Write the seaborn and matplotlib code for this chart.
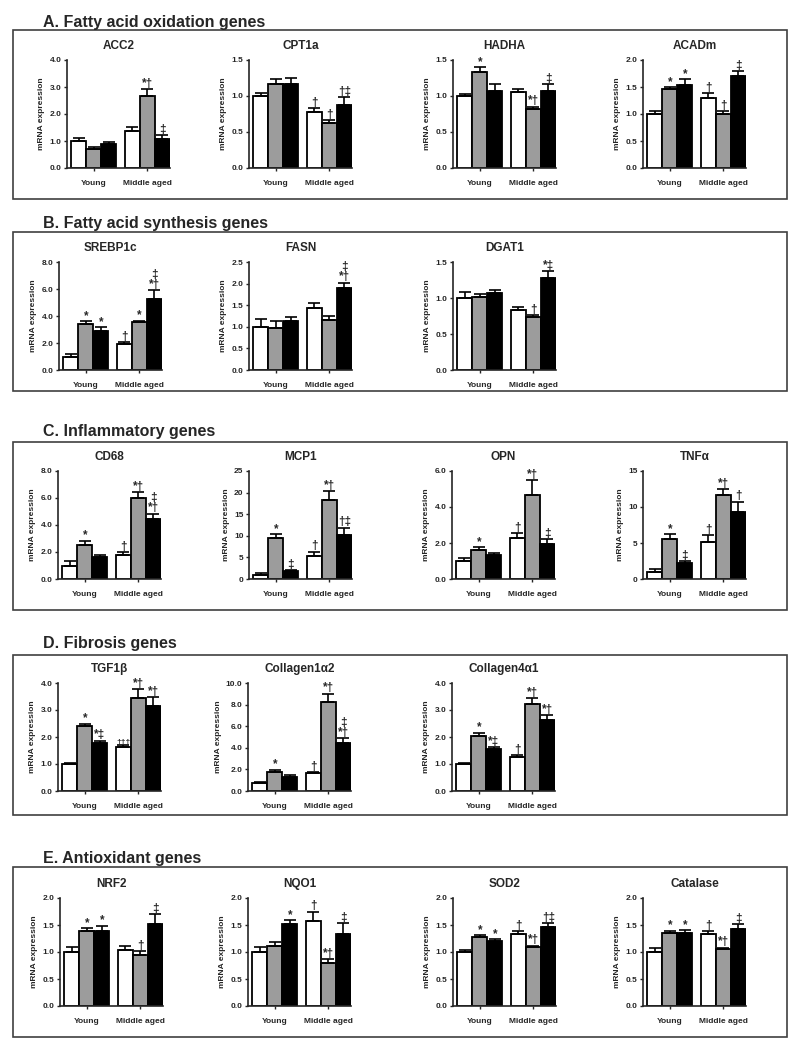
import numpy as np
import pandas as pd
import matplotlib
matplotlib.use('Agg')
import matplotlib.pyplot as plt
import seaborn as sns
from matplotlib.patches import Rectangle

# groups on the x axis and the three bar shades inside each group
ages = ['Young', 'Middle aged']
conds = ['white', 'gray', 'black']
bar_colors = ['white', '#9c9c9c', 'black']

# values are ordered: Young (white, gray, black), Middle aged (white, gray, black)
# A. Fatty acid oxidation
ACC2 = [1.00, 0.70, 0.90, 1.38, 2.68, 1.08]
ACC2_sem = [0.12, 0.08, 0.08, 0.15, 0.23, 0.13]
ACC2_sig = ['', '', '', '', '*†', '‡']

CPT1a = [1.00, 1.16, 1.17, 0.78, 0.63, 0.88]
CPT1a_sem = [0.04, 0.08, 0.08, 0.05, 0.03, 0.10]
CPT1a_sig = ['', '', '', '†', '†', '†‡']

HADHA = [1.00, 1.33, 1.07, 1.06, 0.82, 1.07]
HADHA_sem = [0.03, 0.07, 0.10, 0.04, 0.03, 0.09]
HADHA_sig = ['', '*', '', '', '*†', '‡']

ACADm = [1.00, 1.47, 1.54, 1.30, 1.00, 1.71]
ACADm_sem = [0.05, 0.03, 0.10, 0.09, 0.05, 0.08]
ACADm_sig = ['', '*', '*', '†', '†', '‡']

# B. Fatty acid synthesis
SREBP1c = [1.00, 3.40, 2.90, 1.90, 3.55, 5.25]
SREBP1c_sem = [0.20, 0.22, 0.25, 0.18, 0.10, 0.65]
SREBP1c_sig = ['', '*', '*', '†', '*', '‡\n*†']

FASN = [1.00, 0.98, 1.14, 1.44, 1.16, 1.89]
FASN_sem = [0.17, 0.16, 0.09, 0.10, 0.09, 0.13]
FASN_sig = ['', '', '', '', '', '‡\n*†']

DGAT1 = [1.00, 1.02, 1.07, 0.84, 0.74, 1.28]
DGAT1_sem = [0.08, 0.03, 0.04, 0.04, 0.02, 0.09]
DGAT1_sig = ['', '', '', '', '†', '*‡']

# C. Inflammatory
CD68 = [1.00, 2.55, 1.60, 1.80, 6.00, 4.45]
CD68_sem = [0.32, 0.30, 0.18, 0.18, 0.42, 0.38]
CD68_sig = ['', '*', '', '†', '*†', '‡\n*†']

MCP1 = [1.0, 9.4, 1.8, 5.4, 18.3, 10.1]
MCP1_sem = [0.4, 1.0, 0.3, 0.9, 2.1, 1.8]
MCP1_sig = ['', '*', '‡', '†', '*†', '†‡']

OPN = [1.00, 1.62, 1.35, 2.28, 4.68, 1.92]
OPN_sem = [0.15, 0.15, 0.08, 0.25, 0.80, 0.30]
OPN_sig = ['', '*', '', '†', '*†', '‡']

TNFa = [1.0, 5.6, 2.2, 5.1, 11.6, 9.3]
TNFa_sem = [0.4, 0.65, 0.3, 0.95, 0.9, 1.45]
TNFa_sig = ['', '*', '‡', '†', '*†', '†']

# D. Fibrosis
TGF1b = [1.00, 2.40, 1.77, 1.63, 3.45, 3.13]
TGF1b_sem = [0.03, 0.10, 0.10, 0.06, 0.32, 0.35]
TGF1b_sig = ['', '*', '*‡', '†††', '*†', '*†']

COL1A2 = [0.75, 1.80, 1.30, 1.65, 8.20, 4.45]
COL1A2_sem = [0.10, 0.15, 0.15, 0.12, 0.80, 0.45]
COL1A2_sig = ['', '*', '', '†', '*†', '‡\n*†']

COL4A1 = [1.00, 2.03, 1.57, 1.25, 3.22, 2.63]
COL4A1_sem = [0.05, 0.13, 0.05, 0.07, 0.22, 0.17]
COL4A1_sig = ['', '*', '*‡', '†', '*†', '*†']

# E. Antioxidant
NRF2 = [1.00, 1.38, 1.39, 1.04, 0.95, 1.52]
NRF2_sem = [0.10, 0.06, 0.10, 0.07, 0.07, 0.18]
NRF2_sig = ['', '*', '*', '', '†', '‡']

NQO1 = [1.00, 1.12, 1.52, 1.58, 0.79, 1.33]
NQO1_sem = [0.09, 0.07, 0.07, 0.17, 0.08, 0.20]
NQO1_sig = ['', '', '*', '†', '*†', '‡']

SOD2 = [1.00, 1.28, 1.21, 1.33, 1.09, 1.47]
SOD2_sem = [0.04, 0.03, 0.03, 0.06, 0.03, 0.07]
SOD2_sig = ['', '*', '*', '†', '*†', '†‡']

CAT = [1.00, 1.36, 1.35, 1.34, 1.05, 1.43]
CAT_sem = [0.07, 0.03, 0.05, 0.05, 0.03, 0.09]
CAT_sig = ['', '*', '*', '†', '*†', '‡']

# name: mean, sem, sig, y max, y step, decimals
genes = {
    'ACC2': (ACC2, ACC2_sem, ACC2_sig, 4.0, 1.0, 1),
    'CPT1a': (CPT1a, CPT1a_sem, CPT1a_sig, 1.5, 0.5, 1),
    'HADHA': (HADHA, HADHA_sem, HADHA_sig, 1.5, 0.5, 1),
    'ACADm': (ACADm, ACADm_sem, ACADm_sig, 2.0, 0.5, 1),
    'SREBP1c': (SREBP1c, SREBP1c_sem, SREBP1c_sig, 8.0, 2.0, 1),
    'FASN': (FASN, FASN_sem, FASN_sig, 2.5, 0.5, 1),
    'DGAT1': (DGAT1, DGAT1_sem, DGAT1_sig, 1.5, 0.5, 1),
    'CD68': (CD68, CD68_sem, CD68_sig, 8.0, 2.0, 1),
    'MCP1': (MCP1, MCP1_sem, MCP1_sig, 25, 5, 0),
    'OPN': (OPN, OPN_sem, OPN_sig, 6.0, 2.0, 1),
    'TNFα': (TNFa, TNFa_sem, TNFa_sig, 15, 5, 0),
    'TGF1β': (TGF1b, TGF1b_sem, TGF1b_sig, 4.0, 1.0, 1),
    'Collagen1α2': (COL1A2, COL1A2_sem, COL1A2_sig, 10.0, 2.0, 1),
    'Collagen4α1': (COL4A1, COL4A1_sem, COL4A1_sig, 4.0, 1.0, 1),
    'NRF2': (NRF2, NRF2_sem, NRF2_sig, 2.0, 0.5, 1),
    'NQO1': (NQO1, NQO1_sem, NQO1_sig, 2.0, 0.5, 1),
    'SOD2': (SOD2, SOD2_sem, SOD2_sig, 2.0, 0.5, 1),
    'Catalase': (CAT, CAT_sem, CAT_sig, 2.0, 0.5, 1),
}

# section title, title baseline, box (x0, y0, x1, y1), axes top, axes lefts, genes (pixels)
sections = [
    ('A. Fatty acid oxidation genes', 27, (13, 30, 787, 199), 60,
     [67, 249, 453, 643], ['ACC2', 'CPT1a', 'HADHA', 'ACADm']),
    ('B. Fatty acid synthesis genes', 228, (13, 232, 787, 391), 262,
     [59, 249, 453], ['SREBP1c', 'FASN', 'DGAT1']),
    ('C. Inflammatory genes', 436, (13, 442, 787, 610), 471,
     [58, 249, 452, 643], ['CD68', 'MCP1', 'OPN', 'TNFα']),
    ('D. Fibrosis genes', 648, (13, 655, 787, 815), 683,
     [58, 248, 452], ['TGF1β', 'Collagen1α2', 'Collagen4α1']),
    ('E. Antioxidant genes', 863, (13, 867, 787, 1037), 898,
     [60, 248, 453, 643], ['NRF2', 'NQO1', 'SOD2', 'Catalase']),
]

W, H = 798, 1050
AX_W, AX_H = 103, 108

sns.set_style('ticks')
plt.rcParams['font.family'] = ['Liberation Sans', 'DejaVu Sans']
plt.rcParams['font.weight'] = 'bold'
plt.rcParams['axes.linewidth'] = 1.2

fig = plt.figure(figsize=(W / 100, H / 100), dpi=100)

for title, tbase, box, top, lefts, names in sections:
    x0, y0, x1, y1 = box
    fig.add_artist(Rectangle((x0 / W, 1 - y1 / H), (x1 - x0) / W, (y1 - y0) / H,
                             transform=fig.transFigure, fill=False,
                             lw=1.2, ec='#404040'))
    fig.text(43 / W, 1 - tbase / H, title, fontsize=11.5, fontweight='bold',
             va='baseline', ha='left')

    for left, name in zip(lefts, names):
        mean, sem, sig, ymax, step, dec = genes[name]
        ax = fig.add_axes([left / W, 1 - (top + AX_H) / H, AX_W / W, AX_H / H])
        df = pd.DataFrame({'age': np.repeat(ages, 3), 'cond': conds * 2, 'value': mean})
        sns.barplot(data=df, x='age', y='value', hue='cond', order=ages,
                    hue_order=conds, palette=bar_colors, saturation=1,
                    edgecolor='black', linewidth=1.3, width=0.84, gap=0,
                    errorbar=None, legend=False, ax=ax)

        bars = sorted(ax.patches, key=lambda p: p.get_x())
        xs = [b.get_x() + b.get_width() / 2 for b in bars]
        ax.errorbar(xs, mean, yerr=[np.zeros(6), sem], fmt='none', ecolor='black',
                    elinewidth=1.2, capsize=4, capthick=1.2)
        for x, m, s, t in zip(xs, mean, sem, sig):
            if t:
                # triple marks are set smaller so they fit over one bar
                fs = 6 if len(t) > 2 and '\n' not in t else 8.5
                ax.annotate(t, (x, m + s), xytext=(0, -0.5), textcoords='offset points',
                            ha='center', va='bottom', fontsize=fs, fontweight='bold',
                            linespacing=0.8)

        ax.set_xlim(-0.5, 1.42)
        ax.set_ylim(0, ymax)
        ticks = np.arange(0, ymax + step / 2, step)
        ax.set_yticks(ticks)
        ax.set_yticklabels([f'{t:.{dec}f}' for t in ticks])
        ax.set_xticks([0, 1])
        ax.set_xticklabels(ages)
        ax.tick_params(axis='both', labelsize=6, length=2.5, width=1, pad=1.5)
        ax.tick_params(axis='x', pad=6)
        for lab in ax.get_xticklabels() + ax.get_yticklabels():
            lab.set_fontweight('bold')
        ax.set_xlabel('')
        ax.set_ylabel('mRNA expression', fontsize=6, fontweight='bold', labelpad=3)
        ax.set_title(name, fontsize=8.5, fontweight='bold', pad=8)
        sns.despine(ax=ax)

fig.savefig('out.png', dpi=100, facecolor='white')
